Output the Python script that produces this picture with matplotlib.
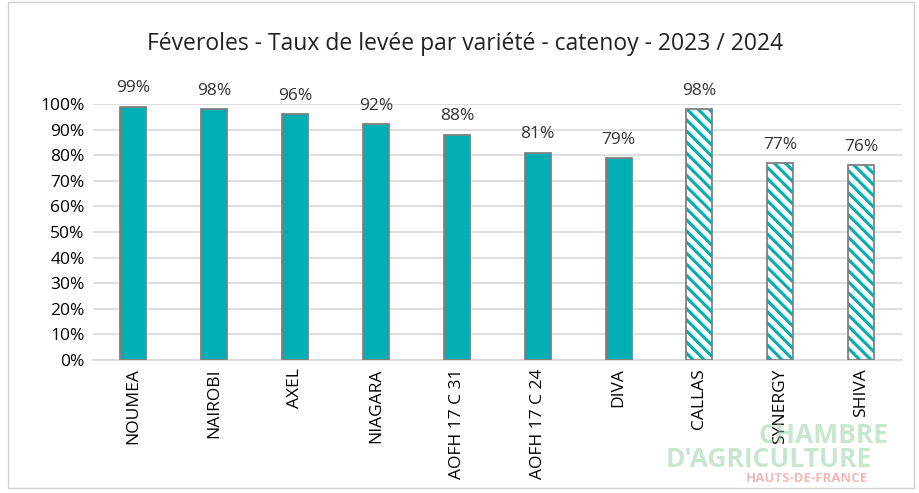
import matplotlib
matplotlib.use('Agg')
import matplotlib.pyplot as plt
from matplotlib.patches import Rectangle

# data
varietes = ['NOUMEA', 'NAIROBI', 'AXEL', 'NIAGARA', 'AOFH 17 C 31',
            'AOFH 17 C 24', 'DIVA', 'CALLAS', 'SYNERGY', 'SHIVA']
taux = [0.99, 0.98, 0.96, 0.92, 0.88, 0.81, 0.79, 0.98, 0.77, 0.76]
hachure = [False] * 7 + [True] * 3

teal = '#00AEB3'
plt.rcParams['font.family'] = ['Open Sans', 'DejaVu Sans']
plt.rcParams['hatch.linewidth'] = 2.2

fig = plt.figure(figsize=(9.2, 4.93), dpi=100)
ax = fig.add_axes([0.101, 0.270, 0.879, 0.519])

for i, (v, h) in enumerate(zip(taux, hachure)):
    if h:
        # hatch in teal, then gray outline on top
        ax.bar(i, v, width=0.32, facecolor='white', edgecolor=teal,
               hatch='\\\\\\', linewidth=0, zorder=3)
        ax.bar(i, v, width=0.32, facecolor='none', edgecolor='#808080',
               linewidth=1.3, zorder=4)
    else:
        ax.bar(i, v, width=0.32, color=teal, edgecolor='#808080',
               linewidth=1.3, zorder=3)
    ax.text(i, v + 0.04, '%d%%' % round(v * 100), ha='center', va='bottom',
            fontsize=12.5, color='#333333')

ax.set_xlim(-0.5, len(varietes) - 0.5)
ax.set_ylim(0, 1.0)
ax.set_yticks([k / 10 for k in range(11)])
ax.set_yticklabels(['%d%%' % (k * 10) for k in range(11)], fontsize=12.5)
ax.set_xticks(range(len(varietes)))
ax.set_xticklabels(varietes, rotation=90, fontsize=12.5)
ax.tick_params(length=0, pad=6)
ax.grid(axis='y', color='#d9d9d9', linewidth=1.2, zorder=0)
for s in ['top', 'right', 'left']:
    ax.spines[s].set_visible(False)
ax.spines['bottom'].set_color('#d9d9d9')
ax.spines['bottom'].set_linewidth(1.2)

fig.text(0.505, 0.91, 'Féveroles - Taux de levée par variété - catenoy - 2023 / 2024',
         ha='center', va='center', fontsize=16.5, color='#222222')

# watermark
fig.text(0.895, 0.117, 'CHAMBRE', ha='center', va='center', fontsize=19,
         color='#8fcf9f', alpha=0.5, fontweight='bold', zorder=0)
fig.text(0.835, 0.067, "D'AGRICULTURE", ha='center', va='center', fontsize=19,
         color='#8fcf9f', alpha=0.5, fontweight='bold', zorder=0)
fig.text(0.877, 0.030, 'HAUTS-DE-FRANCE', ha='center', va='center', fontsize=9.5,
         color='#e88a8a', alpha=0.6, fontweight='bold', zorder=0)

# outer frame
fig.patches.append(Rectangle((0.009, 0.01), 0.985, 0.985, transform=fig.transFigure,
                             fill=False, edgecolor='#d0d0d0', linewidth=1))

fig.savefig('out.png', dpi=100)
